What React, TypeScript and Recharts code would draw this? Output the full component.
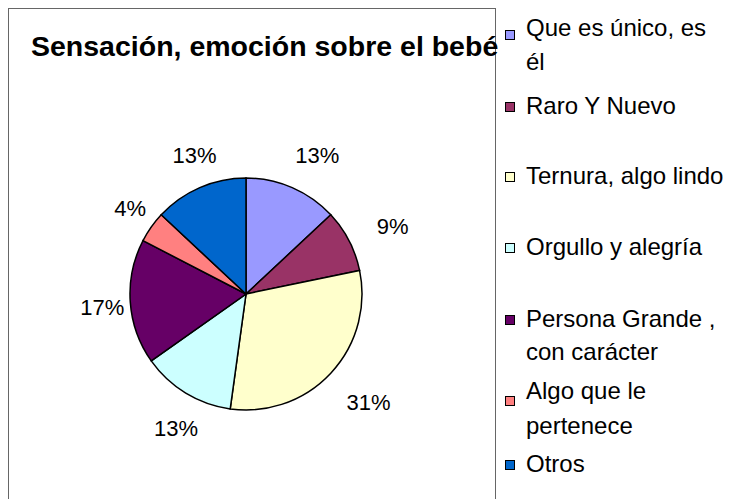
import React from "react";
import { PieChart, Pie, Cell } from "recharts";

const title = "Sensación, emoción sobre el bebé";
const categories = [
  "Que es único, es él",
  "Raro Y Nuevo",
  "Ternura, algo lindo",
  "Orgullo y alegría",
  "Persona Grande , con carácter",
  "Algo que le pertenece",
  "Otros",
];
const counts = [3, 2, 7, 3, 4, 1, 3];
const percentLabels = ["13%", "9%", "31%", "13%", "17%", "4%", "13%"];
const colors = ["#9999FF", "#993366", "#FFFFCC", "#CCFFFF", "#660066", "#FF8080", "#0066CC"];

// layout (not data)
const legendTops = [12, 90, 160, 231, 303, 374, 448];
const legendLineHeights = [34, 34, 34, 34, 33, 35, 34];
const legendMarkerOffsets = [10, 4, 4, 4, 4, 14, 4];
const FONT = '"Liberation Sans", Arial, sans-serif';
const RAD = Math.PI / 180;

const data = categories.map((name, i) => ({ name, value: counts[i], label: percentLabels[i] }));

const renderLabel = (props: any) => {
  const { cx, cy, midAngle, outerRadius, index } = props;
  const r = outerRadius + 38;
  const x = cx + r * Math.cos(-midAngle * RAD) + 10;
  const y = cy + r * Math.sin(-midAngle * RAD) + 3;
  return (
    <text
      x={x}
      y={y}
      textAnchor="middle"
      dominantBaseline="central"
      fontFamily={FONT}
      fontSize={22}
      fill="#000"
    >
      {data[index].label}
    </text>
  );
};

export default function App() {
  return (
    <div
      style={{
        position: "relative",
        width: 724,
        height: 491,
        overflow: "hidden",
        fontFamily: FONT,
        background: "#fff",
      }}
    >
      <div
        style={{
          position: "absolute",
          left: 0,
          top: 0,
          width: 488,
          height: 520,
          border: "1px solid #666",
          boxSizing: "border-box",
        }}
      />
      <div
        style={{
          position: "absolute",
          left: 23,
          top: 24,
          fontSize: 28.5,
          lineHeight: "28px",
          fontWeight: "bold",
          whiteSpace: "nowrap",
          color: "#000",
        }}
      >
        {title}
      </div>
      <div style={{ position: "absolute", left: 0, top: 0 }}>
        <PieChart width={486} height={491} margin={{ top: 0, right: 0, bottom: 0, left: 0 }}>
          <Pie
            data={data}
            dataKey="value"
            nameKey="name"
            cx={238}
            cy={286}
            outerRadius={116}
            startAngle={90}
            endAngle={-270}
            stroke="#000"
            strokeWidth={1.5}
            label={renderLabel}
            labelLine={false}
            isAnimationActive={false}
          >
            {data.map((d, i) => (
              <Cell key={d.name} fill={colors[i]} stroke="#000" strokeWidth={1.5} />
            ))}
          </Pie>
        </PieChart>
      </div>
      {categories.map((name, i) => (
        <div
          key={name}
          style={{ position: "absolute", left: 497, top: legendTops[i], width: 227 }}
        >
          <div
            style={{
              position: "absolute",
              left: 0,
              top: legendMarkerOffsets[i],
              width: 10,
              height: 10,
              background: colors[i],
              border: "1px solid #000",
              boxSizing: "border-box",
            }}
          />
          <div
            style={{
              position: "absolute",
              left: 21,
              top: 0,
              width: 203,
              fontSize: 24,
              lineHeight: `${legendLineHeights[i]}px`,
              color: "#000",
              marginTop: -9,
            }}
          >
            {name}
          </div>
        </div>
      ))}
    </div>
  );
}
